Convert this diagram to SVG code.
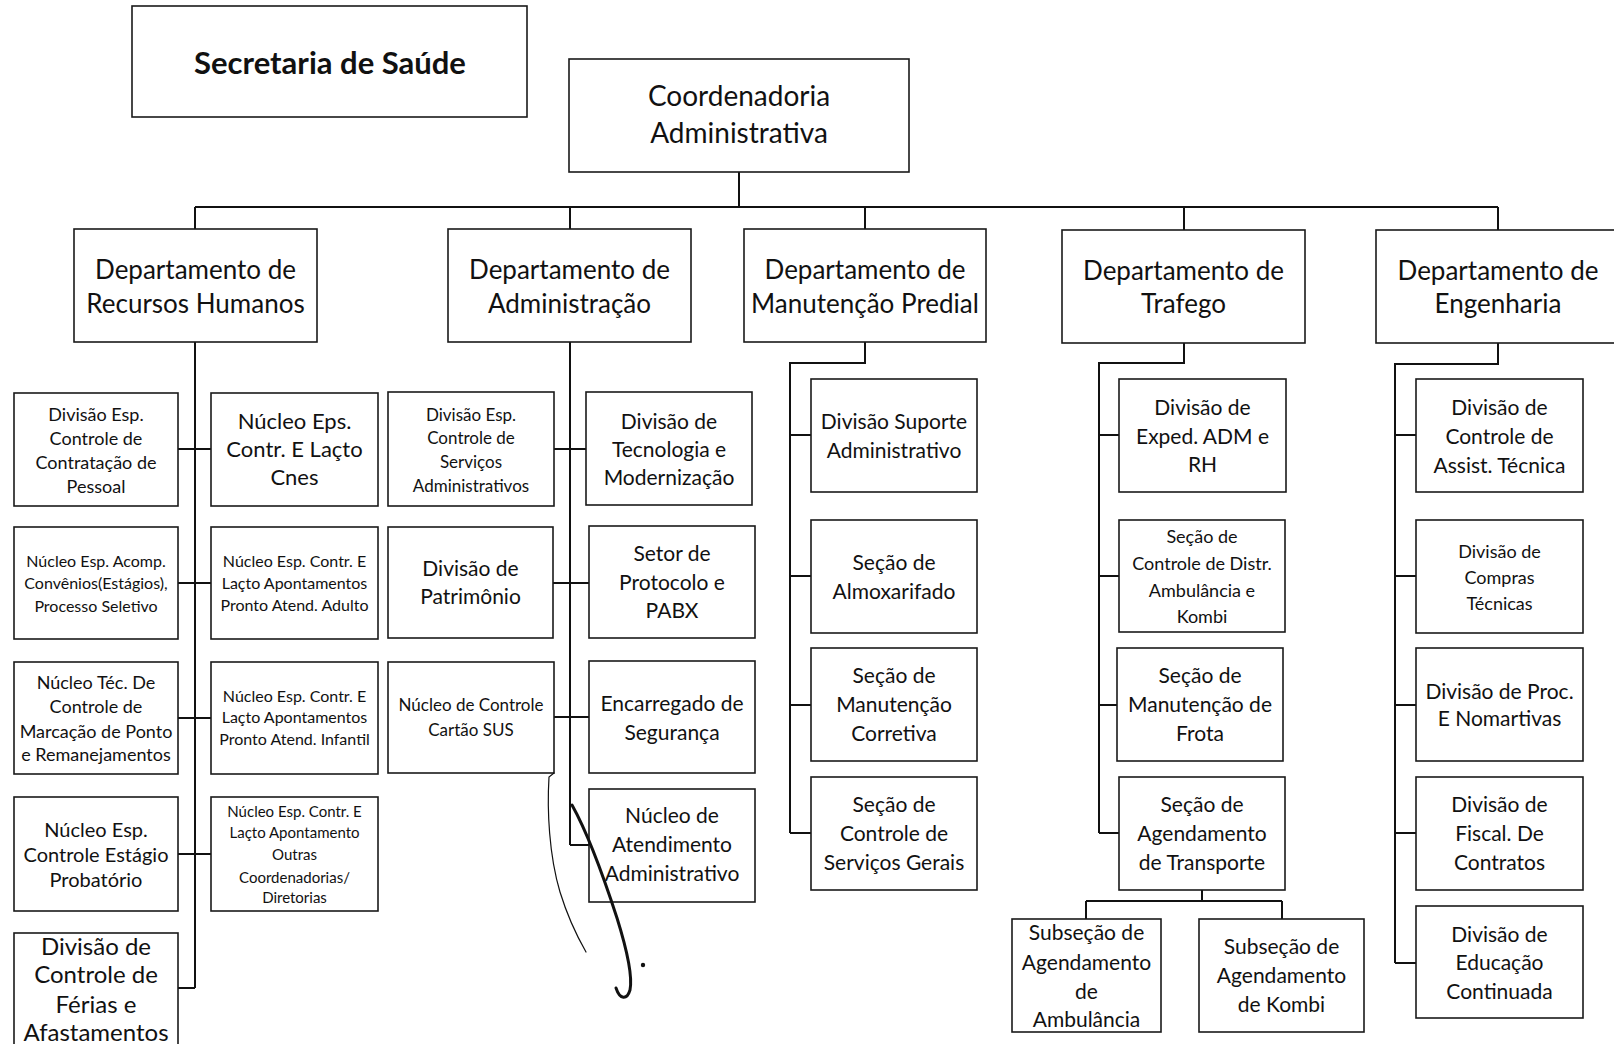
<svg xmlns="http://www.w3.org/2000/svg" width="1614" height="1044" viewBox="0 0 1614 1044">
<style>
.b{fill:#fff;stroke:#1a1a1a;stroke-width:1.6}
.c{fill:none;stroke:#111;stroke-width:2}
text{font-family:Lato,"Open Sans","Liberation Sans",sans-serif;fill:#111;text-anchor:middle}
.h{font-size:31px;font-weight:bold}
.k{font-size:28px}
.d{font-size:26px}
.f24{font-size:24px}
.f22{font-size:22px}
.f21{font-size:21px}
.f20{font-size:20px}
.f18{font-size:18px}
.f17{font-size:17px}
.f16{font-size:16px}
.f15{font-size:15px}
.ink{fill:none;stroke:#111;stroke-linecap:round}
</style>
<rect width="1614" height="1044" fill="#fff"/>

<g id="connectors">
<path class="c" d="M739,172V207M195,207H1498M195,207V229M570,207V229M865,207V229M1184,207V230M1498,207V230"/>
<path class="c" d="M195,342V988M178,449H211M178,583H211M178,718H211M178,854H211M178,988H195"/>
<path class="c" d="M570,342V845M554,449H586M553,583H589M554,717H589M570,845H589"/>
<path class="c" d="M865,342V363H790V833M790,435H811M790,576H811M790,705H811M790,833H811"/>
<path class="c" d="M1184,343V363H1099V833M1099,435H1119M1099,576H1119M1099,705H1117M1099,833H1119"/>
<path class="c" d="M1202,890V901M1086,901H1282M1086,901V919M1282,901V919"/>
<path class="c" d="M1498,343V364H1395V963M1395,435H1416M1395,576H1416M1395,705H1416M1395,833H1416M1395,963H1416"/>
</g>

<g id="secretaria"><rect class="b" x="132" y="6" width="395" height="111"/><text class="h" x="330" y="74">Secretaria de Saúde</text></g>
<g id="coordenadoria"><rect class="b" x="569" y="59" width="340" height="113"/><text class="k"><tspan x="739" y="106">Coordenadoria</tspan><tspan x="739" y="143">Administrativa</tspan></text></g>

<g id="dep-rh"><rect class="b" x="74" y="229" width="243" height="113"/><text class="d"><tspan x="195.5" y="279">Departamento de</tspan><tspan x="195.5" y="313">Recursos Humanos</tspan></text></g>
<g id="dep-adm"><rect class="b" x="448" y="229" width="243" height="113"/><text class="d"><tspan x="569.5" y="279">Departamento de</tspan><tspan x="569.5" y="313">Administração</tspan></text></g>
<g id="dep-manut"><rect class="b" x="744" y="229" width="242" height="113"/><text class="d"><tspan x="865" y="279">Departamento de</tspan><tspan x="865" y="313">Manutenção Predial</tspan></text></g>
<g id="dep-trafego"><rect class="b" x="1062" y="230" width="243" height="113"/><text class="d"><tspan x="1183.5" y="280">Departamento de</tspan><tspan x="1183.5" y="313">Trafego</tspan></text></g>
<g id="dep-eng"><rect class="b" x="1376" y="230" width="244" height="113"/><text class="d"><tspan x="1498" y="280">Departamento de</tspan><tspan x="1498" y="313">Engenharia</tspan></text></g>

<g id="rh-l1"><rect class="b" x="14" y="393" width="164" height="113"/><text class="f18"><tspan x="96" y="421">Divisão Esp.</tspan><tspan x="96" y="445">Controle de</tspan><tspan x="96" y="469">Contratação de</tspan><tspan x="96" y="493">Pessoal</tspan></text></g>
<g id="rh-r1"><rect class="b" x="211" y="393" width="167" height="113"/><text class="f22"><tspan x="294.5" y="429">Núcleo Eps.</tspan><tspan x="294.5" y="457">Contr. E Laçto</tspan><tspan x="294.5" y="485">Cnes</tspan></text></g>
<g id="rh-l2"><rect class="b" x="14" y="527" width="164" height="112"/><text class="f16"><tspan x="96" y="567">Núcleo Esp. Acomp.</tspan><tspan x="96" y="589">Convênios(Estágios),</tspan><tspan x="96" y="612">Processo Seletivo</tspan></text></g>
<g id="rh-r2"><rect class="b" x="211" y="527" width="167" height="112"/><text class="f16"><tspan x="294.5" y="567">Núcleo Esp. Contr. E</tspan><tspan x="294.5" y="589">Laçto Apontamentos</tspan><tspan x="294.5" y="611">Pronto Atend. Adulto</tspan></text></g>
<g id="rh-l3"><rect class="b" x="14" y="662" width="164" height="112"/><text class="f18"><tspan x="96" y="689">Núcleo Téc. De</tspan><tspan x="96" y="713">Controle de</tspan><tspan x="96" y="738">Marcação de Ponto</tspan><tspan x="96" y="761">e Remanejamentos</tspan></text></g>
<g id="rh-r3"><rect class="b" x="211" y="662" width="167" height="112"/><text class="f16"><tspan x="294.5" y="702">Núcleo Esp. Contr. E</tspan><tspan x="294.5" y="723">Laçto Apontamentos</tspan><tspan x="294.5" y="745">Pronto Atend. Infantil</tspan></text></g>
<g id="rh-l4"><rect class="b" x="14" y="797" width="164" height="114"/><text class="f20"><tspan x="96" y="837">Núcleo Esp.</tspan><tspan x="96" y="862">Controle Estágio</tspan><tspan x="96" y="887">Probatório</tspan></text></g>
<g id="rh-r4"><rect class="b" x="211" y="797" width="167" height="114"/><text class="f15"><tspan x="294.5" y="817">Núcleo Esp. Contr. E</tspan><tspan x="294.5" y="838">Laçto Apontamento</tspan><tspan x="294.5" y="860">Outras</tspan><tspan x="294.5" y="883">Coordenadorias/</tspan><tspan x="294.5" y="903">Diretorias</tspan></text></g>
<g id="rh-l5"><rect class="b" x="14" y="933" width="164" height="130"/><text class="f24"><tspan x="96" y="955">Divisão de</tspan><tspan x="96" y="983">Controle de</tspan><tspan x="96" y="1013">Férias e</tspan><tspan x="96" y="1041">Afastamentos</tspan></text></g>

<g id="adm-l1"><rect class="b" x="388" y="392" width="166" height="114"/><text class="f17"><tspan x="471" y="421">Divisão Esp.</tspan><tspan x="471" y="444">Controle de</tspan><tspan x="471" y="468">Serviços</tspan><tspan x="471" y="492">Administrativos</tspan></text></g>
<g id="adm-r1"><rect class="b" x="586" y="392" width="166" height="113"/><text class="f21"><tspan x="669" y="429">Divisão de</tspan><tspan x="669" y="457">Tecnologia e</tspan><tspan x="669" y="485">Modernização</tspan></text></g>
<g id="adm-l2"><rect class="b" x="388" y="527" width="165" height="111"/><text class="f21"><tspan x="470.5" y="576">Divisão de</tspan><tspan x="470.5" y="604">Patrimônio</tspan></text></g>
<g id="adm-r2"><rect class="b" x="589" y="526" width="166" height="112"/><text class="f21"><tspan x="672" y="561">Setor de</tspan><tspan x="672" y="590">Protocolo e</tspan><tspan x="672" y="618">PABX</tspan></text></g>
<g id="adm-l3"><rect class="b" x="388" y="662" width="166" height="111"/><text class="f17"><tspan x="471" y="711">Núcleo de Controle</tspan><tspan x="471" y="736">Cartão SUS</tspan></text></g>
<g id="adm-r3"><rect class="b" x="589" y="661" width="166" height="112"/><text class="f21"><tspan x="672" y="711">Encarregado de</tspan><tspan x="672" y="740">Segurança</tspan></text></g>
<g id="adm-r4"><rect class="b" x="589" y="789" width="166" height="113"/><text class="f21"><tspan x="672" y="823">Núcleo de</tspan><tspan x="672" y="852">Atendimento</tspan><tspan x="672" y="881">Administrativo</tspan></text></g>

<g id="man-1"><rect class="b" x="811" y="379" width="166" height="113"/><text class="f21"><tspan x="894" y="429">Divisão Suporte</tspan><tspan x="894" y="458">Administrativo</tspan></text></g>
<g id="man-2"><rect class="b" x="811" y="520" width="166" height="113"/><text class="f21"><tspan x="894" y="570">Seção de</tspan><tspan x="894" y="599">Almoxarifado</tspan></text></g>
<g id="man-3"><rect class="b" x="811" y="648" width="166" height="113"/><text class="f21"><tspan x="894" y="683">Seção de</tspan><tspan x="894" y="712">Manutenção</tspan><tspan x="894" y="741">Corretiva</tspan></text></g>
<g id="man-4"><rect class="b" x="811" y="777" width="166" height="113"/><text class="f21"><tspan x="894" y="812">Seção de</tspan><tspan x="894" y="841">Controle de</tspan><tspan x="894" y="870">Serviços Gerais</tspan></text></g>

<g id="tra-1"><rect class="b" x="1119" y="379" width="167" height="113"/><text class="f21"><tspan x="1202.5" y="415">Divisão de</tspan><tspan x="1202.5" y="444">Exped. ADM e</tspan><tspan x="1202.5" y="472">RH</tspan></text></g>
<g id="tra-2"><rect class="b" x="1119" y="520" width="166" height="112"/><text class="f18"><tspan x="1202" y="543">Seção de</tspan><tspan x="1202" y="570">Controle de Distr.</tspan><tspan x="1202" y="597">Ambulância e</tspan><tspan x="1202" y="623">Kombi</tspan></text></g>
<g id="tra-3"><rect class="b" x="1117" y="648" width="166" height="113"/><text class="f21"><tspan x="1200" y="683">Seção de</tspan><tspan x="1200" y="712">Manutenção de</tspan><tspan x="1200" y="741">Frota</tspan></text></g>
<g id="tra-4"><rect class="b" x="1119" y="777" width="166" height="113"/><text class="f21"><tspan x="1202" y="812">Seção de</tspan><tspan x="1202" y="841">Agendamento</tspan><tspan x="1202" y="870">de Transporte</tspan></text></g>
<g id="sub-1"><rect class="b" x="1012" y="919" width="149" height="113"/><text class="f21"><tspan x="1086.5" y="940">Subseção de</tspan><tspan x="1086.5" y="970">Agendamento</tspan><tspan x="1086.5" y="999">de</tspan><tspan x="1086.5" y="1027">Ambulância</tspan></text></g>
<g id="sub-2"><rect class="b" x="1199" y="919" width="165" height="113"/><text class="f21"><tspan x="1281.5" y="954">Subseção de</tspan><tspan x="1281.5" y="983">Agendamento</tspan><tspan x="1281.5" y="1012">de Kombi</tspan></text></g>

<g id="eng-1"><rect class="b" x="1416" y="379" width="167" height="113"/><text class="f21"><tspan x="1499.5" y="415">Divisão de</tspan><tspan x="1499.5" y="444">Controle de</tspan><tspan x="1499.5" y="473">Assist. Técnica</tspan></text></g>
<g id="eng-2"><rect class="b" x="1416" y="520" width="167" height="113"/><text class="f18"><tspan x="1499.5" y="558">Divisão de</tspan><tspan x="1499.5" y="584">Compras</tspan><tspan x="1499.5" y="610">Técnicas</tspan></text></g>
<g id="eng-3"><rect class="b" x="1416" y="648" width="167" height="113"/><text class="f21"><tspan x="1499.5" y="699">Divisão de Proc.</tspan><tspan x="1499.5" y="726">E Nomartivas</tspan></text></g>
<g id="eng-4"><rect class="b" x="1416" y="777" width="167" height="113"/><text class="f21"><tspan x="1499.5" y="812">Divisão de</tspan><tspan x="1499.5" y="841">Fiscal. De</tspan><tspan x="1499.5" y="870">Contratos</tspan></text></g>
<g id="eng-5"><rect class="b" x="1416" y="906" width="167" height="112"/><text class="f21"><tspan x="1499.5" y="942">Divisão de</tspan><tspan x="1499.5" y="970">Educação</tspan><tspan x="1499.5" y="999">Continuada</tspan></text></g>

<g id="handwriting">
<path class="ink" stroke-width="1.2" d="M554,773 L549,777 C547,810 549,855 560,892 C568,918 578,938 586,952"/>
<path class="ink" stroke-width="3" d="M572,805 C586,830 604,878 617,918 C627,950 633,975 630,990 C627,1000 620,1000 616,988"/>
<circle cx="643" cy="965" r="2.2" fill="#111"/>
</g>
</svg>
